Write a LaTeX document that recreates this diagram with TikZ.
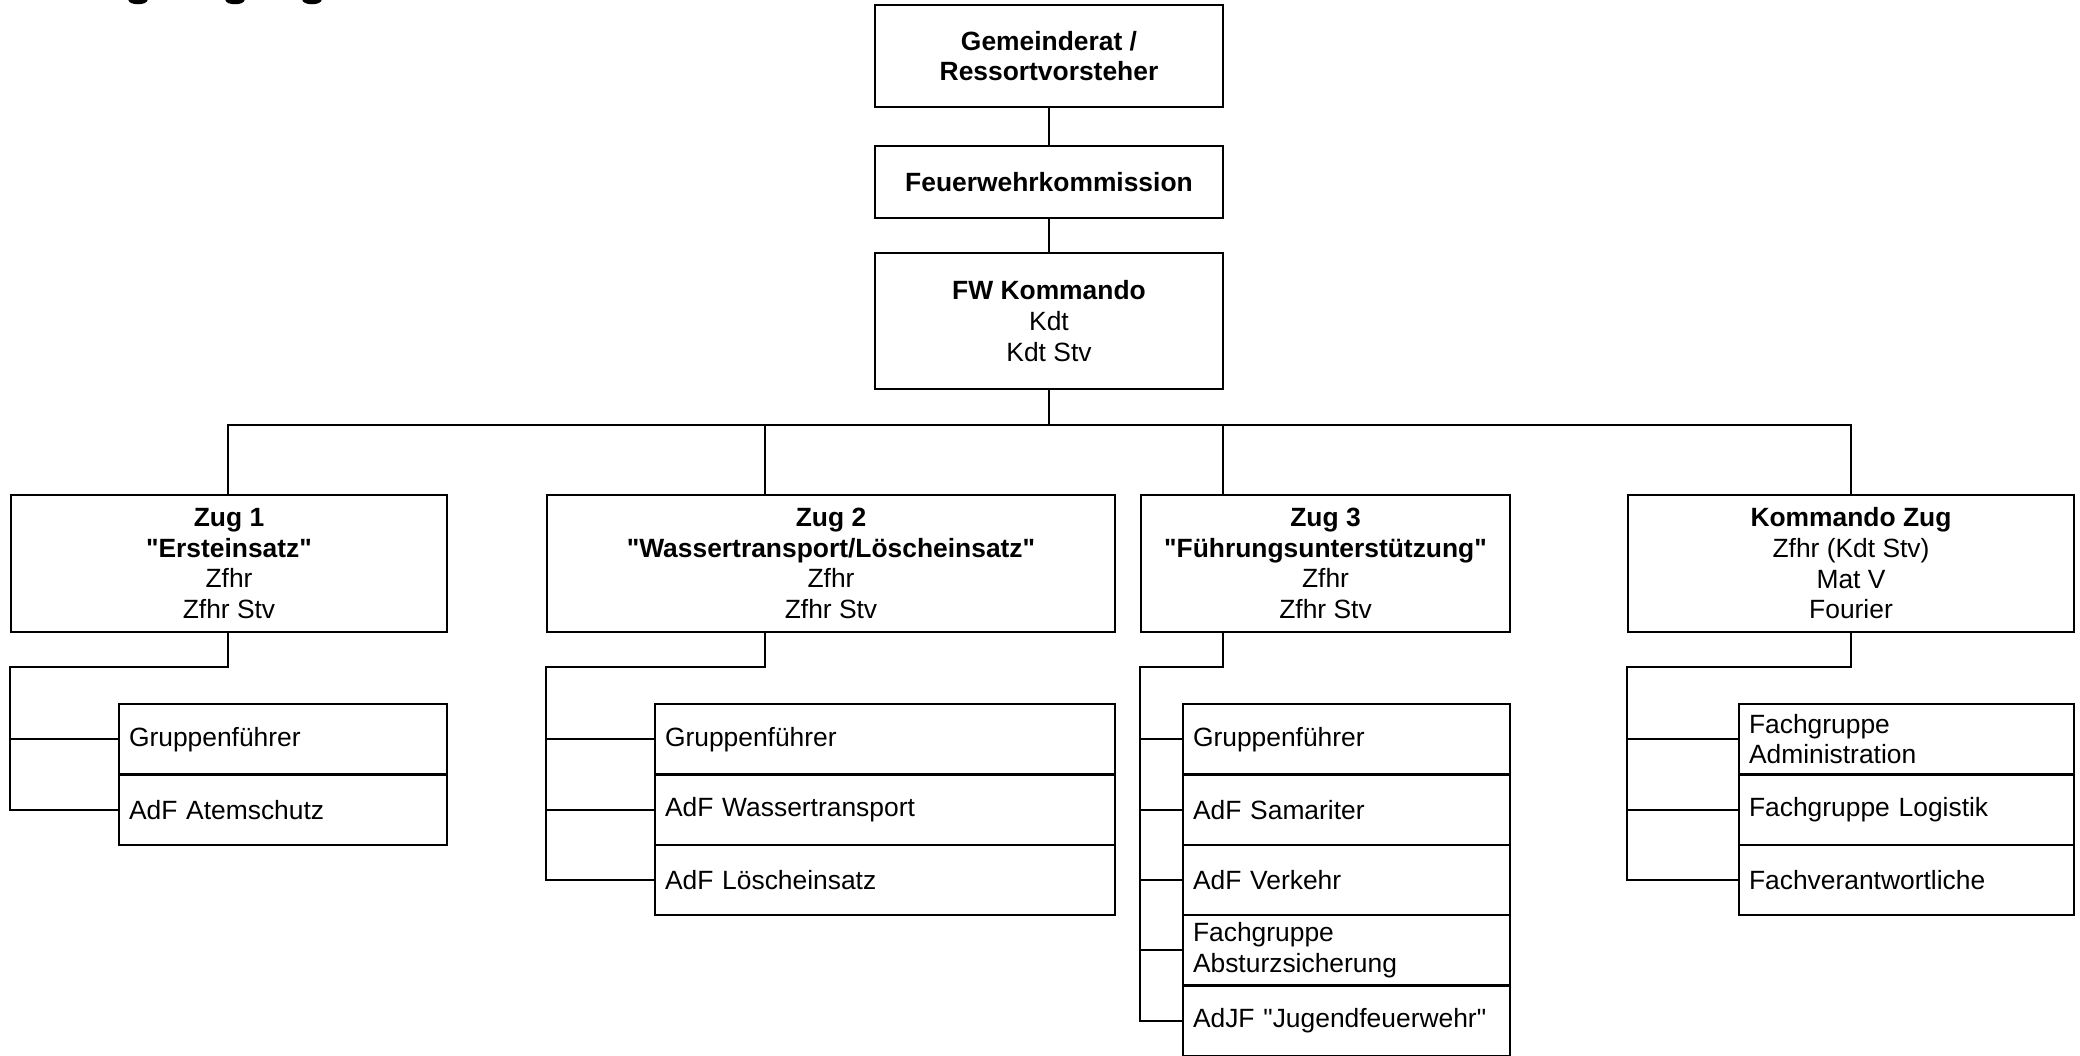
\documentclass[tikz,border=0pt]{standalone}
\usepackage{fontspec}
\newfontfamily\lib{Liberation Sans}
\newcommand\fs{\lib\fontsize{9.9pt}{11.5pt}\selectfont}
\newcommand\mkbox[6]{%
  \pgfmathsetmacro\bw{(#4-#2)*0.375}\pgfmathsetmacro\bh{(#5-#3)*0.375}%
  \node[box, minimum width=\bw pt, minimum height=\bh pt] (#1) at ({(#2+#4)/2},{(#3+#5)/2}) {#6};}
\newcommand\mkrow[6]{%
  \pgfmathsetmacro\bw{(#4-#2-20)*0.375}\pgfmathsetmacro\bh{(#5-#3)*0.375}%
  \node[sub, text width=\bw pt, minimum height=\bh pt] (#1) at ({(#2+#4)/2},{(#3+#5)/2}) {#6};}
\begin{document}
\begin{tikzpicture}[x=0.375pt,y=-0.375pt,
  box/.style={draw, line width=0.95pt, inner sep=0pt, align=center, font=\fs},
  sub/.style={draw, line width=0.95pt, inner ysep=0pt, inner xsep=3.75pt, align=left, font=\fs},
  conn/.style={line width=0.8pt}]
\useasboundingbox (0,0) rectangle (2080,1056);
\clip (0,0) rectangle (2080,1056);

% cut-off title remnants (descenders only)
\fill (138,0) ellipse [x radius=3.6pt, y radius=1.6pt];
\fill (235,0) ellipse [x radius=3.6pt, y radius=1.6pt];
\fill (312,0) ellipse [x radius=3.6pt, y radius=1.6pt];

% top chain
\mkbox{gr}{875}{5}{1223}{107}{\textbf{Gemeinderat /}\\\textbf{Ressortvorsteher}}
\mkbox{fwk}{875}{146}{1223}{218}{\textbf{Feuerwehrkommission}}
\mkbox{kdo}{875}{253}{1223}{389}{\textbf{FW Kommando}\\Kdt\\Kdt Stv}

% Zug boxes
\mkbox{z1}{11}{495}{447}{632}{\textbf{Zug 1}\\\textbf{"Ersteinsatz"}\\Zfhr\\Zfhr Stv}
\mkbox{z2}{547}{495}{1115}{632}{\textbf{Zug 2}\\\textbf{"Wassertransport/Löscheinsatz"}\\Zfhr\\Zfhr Stv}
\mkbox{z3}{1141}{495}{1510}{632}{\textbf{Zug 3}\\\textbf{"Führungsunterstützung"}\\Zfhr\\Zfhr Stv}
\mkbox{zk}{1628}{495}{2074}{632}{\textbf{Kommando Zug}\\Zfhr (Kdt Stv)\\Mat V\\Fourier}

% sub rows Zug 1
\mkrow{r11}{119}{704}{447}{774.4}{Gruppenführer}
\mkrow{r12}{119}{774.4}{447}{844.8}{AdF Atemschutz}
% sub rows Zug 2
\mkrow{r21}{655}{704}{1115}{774.4}{Gruppenführer}
\mkrow{r22}{655}{774.4}{1115}{844.8}{AdF Wassertransport}
\mkrow{r23}{655}{844.8}{1115}{915.2}{AdF Löscheinsatz}
% sub rows Zug 3
\mkrow{r31}{1183}{704}{1510}{774.4}{Gruppenführer}
\mkrow{r32}{1183}{774.4}{1510}{844.8}{AdF Samariter}
\mkrow{r33}{1183}{844.8}{1510}{915.2}{AdF Verkehr}
\mkrow{r34}{1183}{915.2}{1510}{985.6}{Fachgruppe\\Absturzsicherung}
\mkrow{r35}{1183}{985.6}{1510}{1056}{AdJF "Jugendfeuerwehr"}
% sub rows Kommando Zug
\mkrow{r41}{1739}{704}{2074}{774.4}{Fachgruppe\\Administration}
\mkrow{r42}{1739}{774.4}{2074}{844.8}{Fachgruppe Logistik}
\mkrow{r43}{1739}{844.8}{2074}{915.2}{Fachverantwortliche}

% top connectors
\draw[conn] (gr) -- (fwk);
\draw[conn] (fwk) -- (kdo);
\coordinate (bus) at (1049,425);
\coordinate (d1) at (228,667);
\coordinate (d2) at (765,667);
\coordinate (d3) at (1223,667);
\coordinate (d4) at (1851,667);
\draw[conn] (kdo.south) -- (bus);
\draw[conn] (z1.north -| d1) |- (bus) -| (zk.north -| d4);
\draw[conn] (bus -| d2) -- (z2.north -| d2);
\draw[conn] (bus -| d3) -- (z3.north -| d3);

% Zug 1 bracket
\draw[conn] (z1.south -| d1) -- (d1) -| (z1.west |- r12.west) -- (r12.west);
\draw[conn] (z1.west |- r11.west) -- (r11.west);
% Zug 2 bracket
\draw[conn] (z2.south -| d2) -- (d2) -| (z2.west |- r23.west) -- (r23.west);
\draw[conn] (z2.west |- r21.west) -- (r21.west);
\draw[conn] (z2.west |- r22.west) -- (r22.west);
% Zug 3 bracket
\draw[conn] (z3.south -| d3) -- (d3) -| (z3.west |- r35.west) -- (r35.west);
\draw[conn] (z3.west |- r31.west) -- (r31.west);
\draw[conn] (z3.west |- r32.west) -- (r32.west);
\draw[conn] (z3.west |- r33.west) -- (r33.west);
\draw[conn] (z3.west |- r34.west) -- (r34.west);
% Kommando Zug bracket
\draw[conn] (zk.south -| d4) -- (d4) -| (zk.west |- r43.west) -- (r43.west);
\draw[conn] (zk.west |- r41.west) -- (r41.west);
\draw[conn] (zk.west |- r42.west) -- (r42.west);
\end{tikzpicture}
\end{document}
